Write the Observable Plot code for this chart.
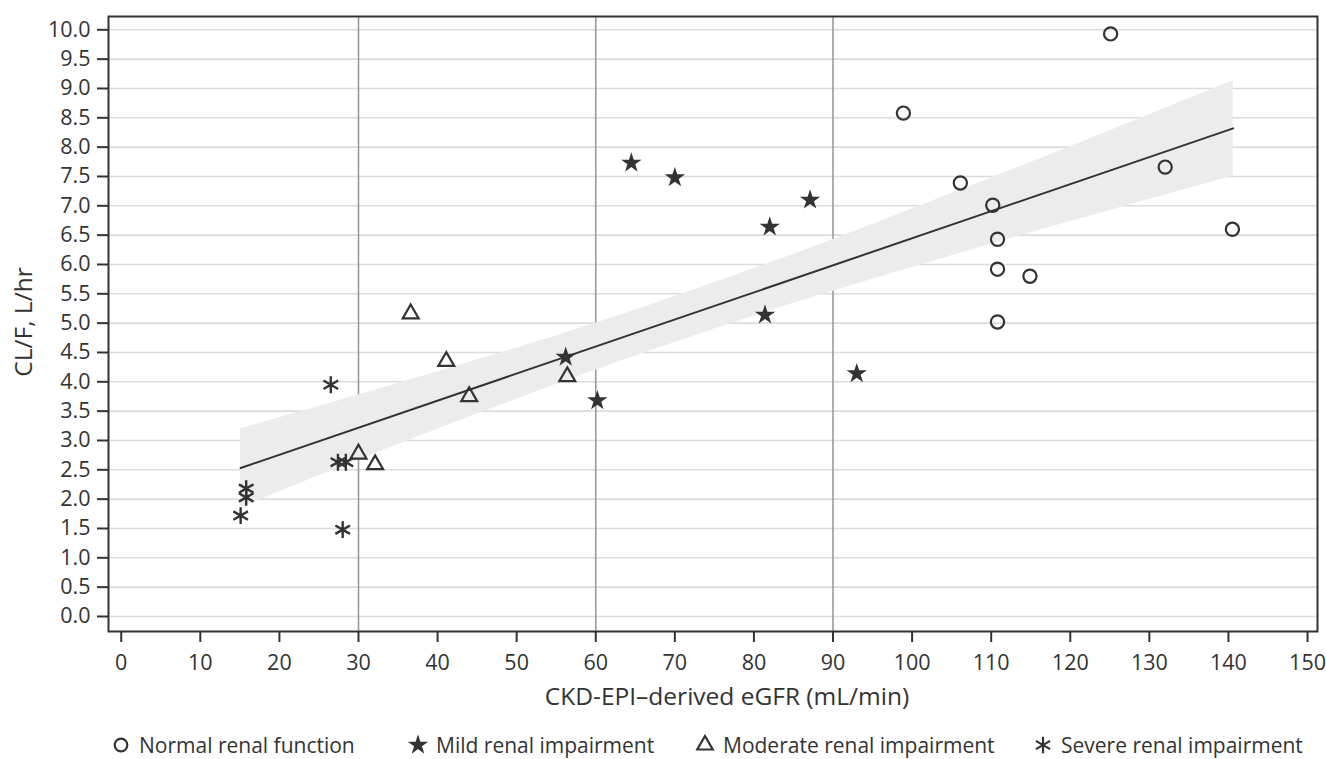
<!DOCTYPE html>
<html><head><meta charset="utf-8">
<script src="https://cdn.jsdelivr.net/npm/d3@7"></script>
<script src="https://cdn.jsdelivr.net/npm/@observablehq/plot@0.6"></script>
<style>
body{margin:0;background:#fff;font-family:"Open Sans", sans-serif;color:#333;}
#legend{position:relative;height:39px;font-size:21px;}
.item{position:absolute;top:11px;display:flex;align-items:center;white-space:nowrap;line-height:28px;}
.item svg{margin-right:7px;}
</style></head><body>
<div id="chart"></div>
<div id="legend"></div>
<script>
// ---- data ----
const groups = ["Normal renal function", "Mild renal impairment", "Moderate renal impairment", "Severe renal impairment"];
const normalX = [125.1, 98.9, 106.1, 110.2, 110.8, 110.8, 114.9, 110.8, 132.0, 140.5];
const normalY = [9.93, 8.58, 7.39, 7.01, 6.43, 5.92, 5.80, 5.02, 7.66, 6.60];
const mildX = [64.5, 70.0, 87.1, 82.0, 81.4, 56.2, 60.2, 93.0];
const mildY = [7.73, 7.48, 7.10, 6.64, 5.14, 4.42, 3.68, 4.14];
const moderateX = [36.6, 41.1, 44.0, 56.4, 30.0, 32.1];
const moderateY = [5.16, 4.35, 3.75, 4.09, 2.77, 2.59];
const severeX = [26.5, 27.4, 28.4, 15.8, 15.8, 15.1, 28.0];
const severeY = [3.95, 2.63, 2.63, 2.18, 2.03, 1.72, 1.48];
const fitX = [15.1, 140.6];
const fitY = [2.53, 8.32];
const bandX  = [15.1, 25, 35, 45, 55, 65, 75, 85, 95, 105, 115, 125, 140.6];
const bandLo = [1.86, 2.40, 2.93, 3.45, 3.96, 4.44, 4.90, 5.34, 5.75, 6.15, 6.54, 6.92, 7.51];
const bandHi = [3.20, 3.58, 3.97, 4.37, 4.78, 5.22, 5.69, 6.17, 6.68, 7.21, 7.74, 8.28, 9.13];
const refLines = [30, 60, 90];
const xTicks = [0, 10, 20, 30, 40, 50, 60, 70, 80, 90, 100, 110, 120, 130, 140, 150];
const yTicks = [0, 0.5, 1, 1.5, 2, 2.5, 3, 3.5, 4, 4.5, 5, 5.5, 6, 6.5, 7, 7.5, 8, 8.5, 9, 9.5, 10];
const xLabel = "CKD-EPI\u2013derived eGFR (mL/min)";
const yLabel = "CL/F, L/hr";

const ink = "#333";
const font = "'Open Sans', sans-serif";

const chart = Plot.plot({
  width: 1326, height: 720,
  marginLeft: 108, marginRight: 9, marginTop: 16, marginBottom: 89,
  style: {fontFamily: font, fontSize: "21px", color: ink, background: "#fff"},
  x: {domain: [-1.61, 151.26]},
  y: {domain: [-0.256, 10.227]},
  marks: [
    Plot.gridY(yTicks, {stroke: "#dcdcdc", strokeOpacity: 1, strokeWidth: 1.6}),
    Plot.ruleX(refLines, {stroke: "#9a9a9a", strokeWidth: 1.6}),
    Plot.areaY(bandX, {x: bandX, y1: bandLo, y2: bandHi, fill: "#ececec"}),
    Plot.line(fitX, {x: fitX, y: fitY, stroke: ink, strokeWidth: 2}),
    Plot.frame({stroke: ink, strokeWidth: 2}),
    Plot.axisX(xTicks, {tickSize: 11, tickPadding: 12, label: null, stroke: ink, strokeWidth: 2, fill: ink, fontSize: 21.5, fontFamily: font}),
    Plot.axisY(yTicks, {tickSize: 11, tickPadding: 7, label: null, tickFormat: d => d.toFixed(1), stroke: ink, strokeWidth: 2, fill: ink, fontSize: 21.5, fontFamily: font}),
    Plot.text([xLabel], {text: d => d, frameAnchor: "bottom", dy: 66, dx: 14, fontSize: 24.5, fill: ink, fontFamily: font, lineAnchor: "middle", textAnchor: "middle"}),
    Plot.text([yLabel], {text: d => d, frameAnchor: "left", dx: -84, dy: -2, rotate: -90, fontSize: 24.5, fill: ink, fontFamily: font, lineAnchor: "middle", textAnchor: "middle"}),
    Plot.dot(normalX, {x: normalX, y: normalY, symbol: "circle", r: 6.6, stroke: ink, strokeWidth: 2.2, fill: "none"}),
    Plot.dot(mildX, {x: mildX, y: mildY, symbol: "star", r: 6.4, fill: ink, stroke: "none"}),
    Plot.dot(moderateX, {x: moderateX, y: moderateY, symbol: "triangle2", r: 7.6, stroke: ink, strokeWidth: 2.2, fill: "none"}),
    Plot.dot(severeX, {x: severeX, y: severeY, symbol: "asterisk", r: 8, stroke: ink, strokeWidth: 2.4, fill: "none"})
  ]
});
document.getElementById("chart").appendChild(chart);

// ---- legend (HTML below the SVG) ----
const legendSymbols = [
  {type: d3.symbolCircle, size: Math.PI * 6.3 * 6.3, fill: "none", stroke: ink},
  {type: d3.symbolStar, size: Math.PI * 6.4 * 6.4, fill: ink, stroke: "none"},
  {type: d3.symbolTriangle2, size: Math.PI * 7.4 * 7.4, fill: "none", stroke: ink},
  {type: d3.symbolAsterisk, size: Math.PI * 7.8 * 7.8, fill: "none", stroke: ink}
];
const legendLeft = [110, 407, 694, 1032];
const legend = document.getElementById("legend");
groups.forEach((g, i) => {
  const s = legendSymbols[i];
  const item = document.createElement("div");
  item.className = "item";
  item.style.left = legendLeft[i] + "px";
  const path = d3.symbol(s.type, s.size)();
  item.innerHTML = `<svg width="22" height="22" viewBox="-11 -11 22 22"><path d="${path}" fill="${s.fill}" stroke="${s.stroke}" stroke-width="2.2"/></svg><span>${g}</span>`;
  legend.appendChild(item);
});
</script>
</body></html>
